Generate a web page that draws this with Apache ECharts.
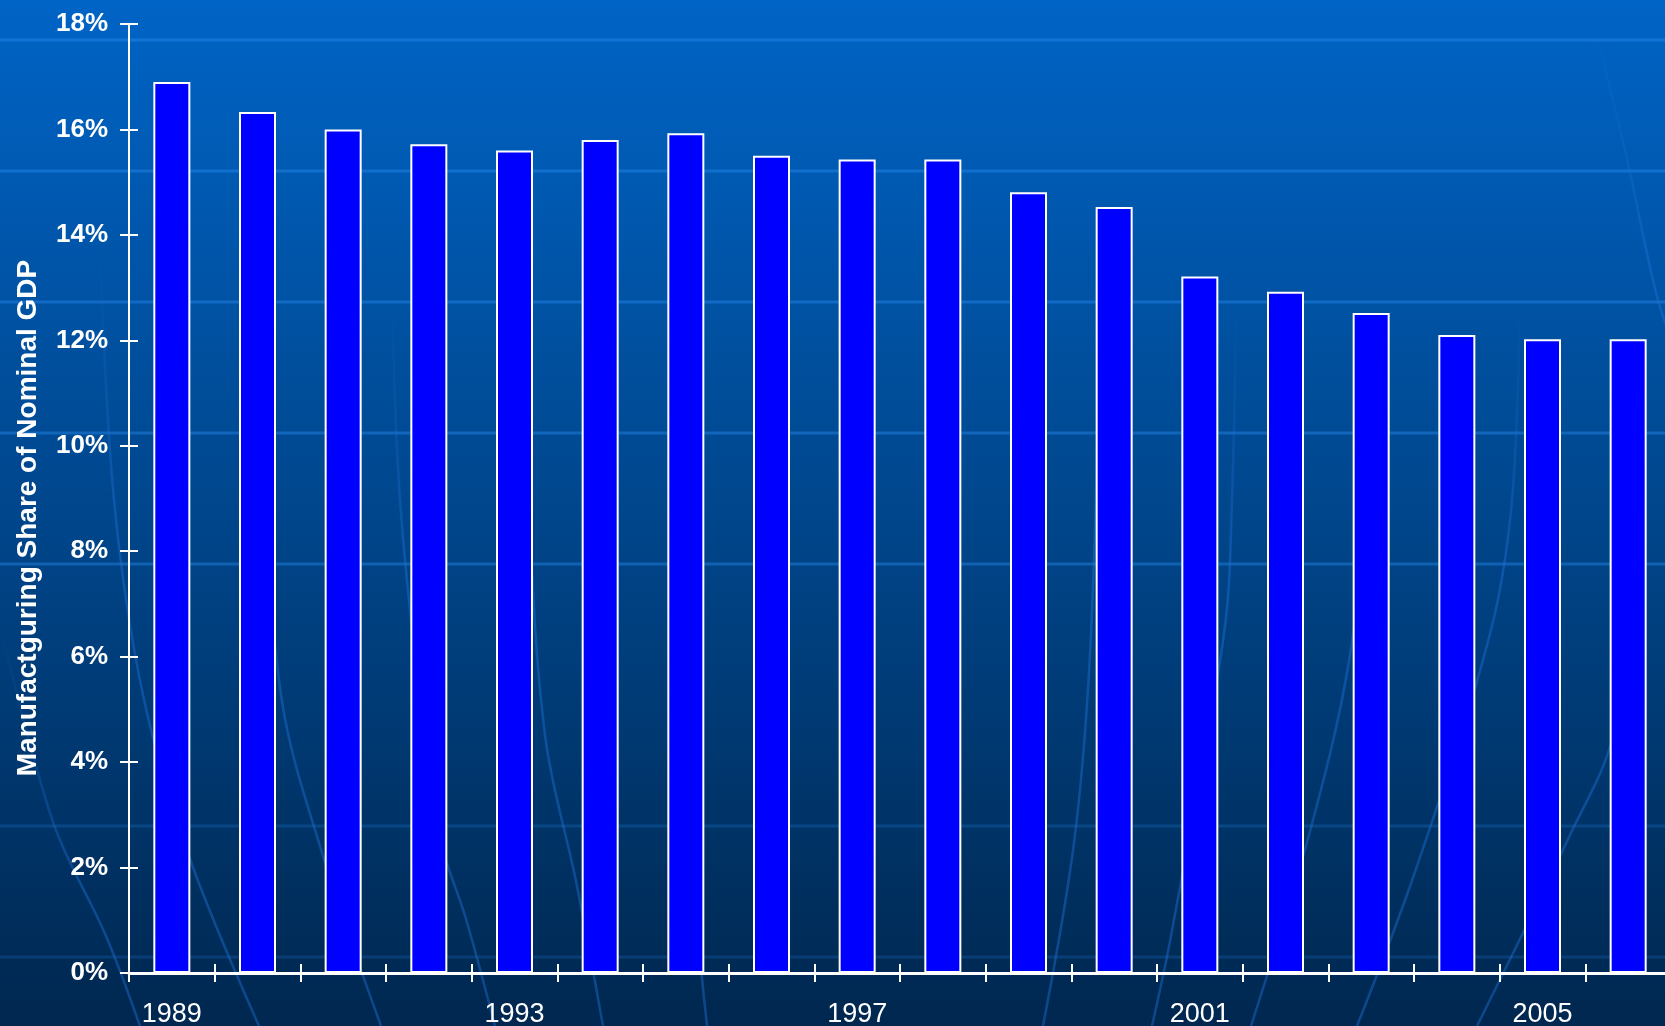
<!DOCTYPE html>
<html>
<head>
<meta charset="utf-8">
<title>Manufacturing Share of Nominal GDP</title>
<script src="https://cdn.jsdelivr.net/npm/echarts@6/dist/echarts.min.js"></script>
<style>
  html, body { margin: 0; padding: 0; background: #003a78; overflow: hidden; }
  #chart { width: 1665px; height: 1026px; }
</style>
</head>
<body>
<div id="chart"></div>
<script>
// Manufacturing value added as a share of nominal GDP, by year
const years = ['1989','1990','1991','1992','1993','1994','1995','1996','1997',
               '1998','1999','2000','2001','2002','2003','2004','2005','2006'];
const manufacturingShare = [16.9, 16.33, 16.0, 15.72, 15.6, 15.8, 15.93, 15.5, 15.43,
                            15.43, 14.81, 14.53, 13.21, 12.92, 12.52, 12.1, 12.02, 12.02];
const yTicks = { min: 0, max: 18, step: 2 };
const axisTitle = 'Manufactguring Share of Nominal GDP';

const FONT = "'Liberation Sans', Arial, Helvetica, sans-serif";
const W = 1665, H = 1026;

// Slide backdrop: vertical gradient, faint horizontal rules and globe meridians
const backdrop = [];
backdrop.push({
  type: 'rect', z: -20, silent: true,
  shape: { x: 0, y: 0, width: W, height: H },
  style: {
    fill: new echarts.graphic.LinearGradient(0, 0, 0, 1, [
      { offset: 0, color: '#0064c6' },
      { offset: 0.5, color: '#00468c' },
      { offset: 1, color: '#00274f' }
    ])
  }
});
const rules = [[40, 0.45], [171, 0.42], [302, 0.42], [433, 0.42], [564, 0.42], [826, 0.22], [957, 0.2]];
rules.forEach(([y, a]) => {
  backdrop.push({
    type: 'line', z: -15, silent: true,
    shape: { x1: 0, y1: y, x2: W, y2: y },
    style: { stroke: 'rgba(40,140,240,' + a + ')', lineWidth: 3 }
  });
});
const meridians = [
  [[0,624],[53,822],[106,936],[140,1026]],
  [[100,250],[114,500],[143,695],[190,859],[259,1026]],
  [[262,430],[281,695],[323,856],[381,1026]],
  [[392,300],[400,500],[420,700],[439,835],[466,919],[495,1026]],
  [[526,300],[529,500],[545,735],[577,886],[603,1026]],
  [[684,600],[693,869],[707,1026]],
  [[1100,300],[1091,634],[1075,835],[1043,1026]],
  [[1236,300],[1232,500],[1224,634],[1171,936],[1152,1026]],
  [[1380,400],[1349,661],[1309,835],[1251,1026]],
  [[1520,300],[1512,500],[1490,634],[1416,869],[1357,1026]],
  [[1645,500],[1613,735],[1570,835],[1477,1026]],
  [[1588,0],[1625,150],[1658,300],[1680,360]]
];
meridians.forEach(pts => {
  const y0 = pts[0][1];
  const y1 = pts[pts.length - 1][1];
  // fade each meridian in from its upper end
  const stroke = new echarts.graphic.LinearGradient(0, y0, 0, Math.min(y0 + 260, y1), [
    { offset: 0, color: 'rgba(30,110,210,0)' },
    { offset: 1, color: 'rgba(30,110,210,0.45)' }
  ], true);
  backdrop.push({
    type: 'polyline', z: -14, silent: true,
    shape: { points: pts, smooth: 0.35 },
    style: { stroke: stroke, lineWidth: 2.5, fill: null }
  });
});
backdrop.push({
  type: 'text', z: 10, silent: true,
  x: 28, y: 518, rotation: Math.PI / 2,
  style: {
    text: axisTitle,
    fill: '#ffffff',
    font: 'bold 28px ' + FONT,
    textAlign: 'center',
    textVerticalAlign: 'middle'
  }
});

const chart = echarts.init(document.getElementById('chart'), null, { renderer: 'canvas' });

const catAxisBase = {
  type: 'category',
  data: years,
  boundaryGap: true,
  axisLine: { show: true, lineStyle: { color: '#ffffff', width: 3 } },
  splitLine: { show: false }
};
const valAxisBase = {
  type: 'value',
  min: yTicks.min, max: yTicks.max, interval: yTicks.step,
  splitLine: { show: false },
  axisLine: { show: true, lineStyle: { color: '#ffffff', width: 2 } }
};

chart.setOption({
  animation: false,
  backgroundColor: 'transparent',
  textStyle: { fontFamily: FONT },
  graphic: { elements: backdrop },
  // the plot runs past the right edge of the canvas, so the last category is cut off
  grid: { left: 129, top: 24, height: 949, width: 1542, containLabel: false, outerBoundsMode: 'none' },
  xAxis: [
    Object.assign({}, catAxisBase, {
      position: 'bottom',
      axisTick: { show: true, interval: 0, inside: false, length: 9, lineStyle: { color: '#ffffff', width: 2 } },
      axisLabel: { show: true, interval: 3, color: '#ffffff', fontSize: 27, fontFamily: FONT, margin: 28 }
    }),
    Object.assign({}, catAxisBase, {
      position: 'bottom',
      axisLine: { show: false },
      axisTick: { show: true, interval: 0, inside: true, length: 9, lineStyle: { color: '#ffffff', width: 2 } },
      axisLabel: { show: false }
    })
  ],
  yAxis: [
    Object.assign({}, valAxisBase, {
      position: 'left',
      axisTick: { show: true, inside: false, length: 9, lineStyle: { color: '#ffffff', width: 2 } },
      axisLabel: {
        color: '#ffffff', fontSize: 26, fontWeight: 'bold', fontFamily: FONT, margin: 21,
        formatter: '{value}%'
      }
    }),
    Object.assign({}, valAxisBase, {
      position: 'left',
      axisLine: { show: false },
      axisTick: { show: true, inside: true, length: 9, lineStyle: { color: '#ffffff', width: 2 } },
      axisLabel: { show: false }
    })
  ],
  series: [{
    name: 'Manufacturing share of nominal GDP',
    type: 'bar',
    xAxisIndex: 0,
    yAxisIndex: 0,
    data: manufacturingShare,
    barWidth: 37,
    z: 3,
    itemStyle: { color: '#0000ff', borderColor: '#ffffff', borderWidth: 2 }
  }]
});
</script>
</body>
</html>
